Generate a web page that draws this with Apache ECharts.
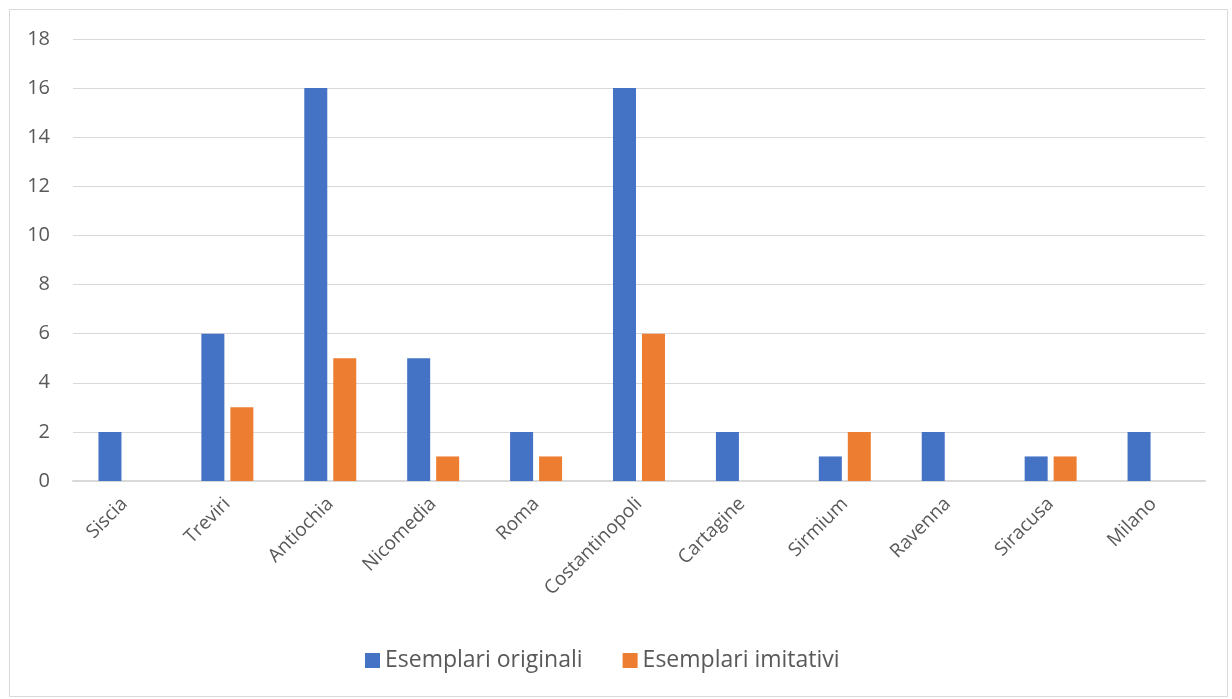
<!DOCTYPE html>
<html>
<head>
<meta charset="utf-8">
<script src="https://cdn.jsdelivr.net/npm/echarts@6/dist/echarts.min.js"></script>
<style>
  html, body { margin: 0; padding: 0; background: #fff; }
  #chart { width: 1232px; height: 699px; }
</style>
</head>
<body>
<div id="chart"></div>
<script>
// Zecche (categorie) e numero di esemplari
const mints = ['Siscia', 'Treviri', 'Antiochia', 'Nicomedia', 'Roma', 'Costantinopoli',
    'Cartagine', 'Sirmium', 'Ravenna', 'Siracusa', 'Milano'];
const originali = [2, 6, 16, 5, 2, 16, 2, 1, 2, 1, 2];
const imitativi = [0, 3, 5, 1, 1, 6, 0, 2, 0, 1, 0];
const yTicks = { min: 0, max: 18, interval: 2 };

const chart = echarts.init(document.getElementById('chart'));
const font = '"Open Sans", "Noto Sans", sans-serif';

chart.setOption({
    animation: false,
    textStyle: { fontFamily: font },
    graphic: [{
        type: 'rect',
        shape: { x: 9.5, y: 9.5, width: 1218, height: 687 },
        style: { fill: 'none', stroke: '#d9d9d9', lineWidth: 1 },
        silent: true
    }],
    grid: { left: 73, right: 27, top: 39, bottom: 218 },
    legend: {
        bottom: 22,
        left: 360,
        itemWidth: 15,
        itemHeight: 15,
        itemGap: 40,
        icon: 'rect',
        textStyle: { fontSize: 23, color: '#595959', fontFamily: font },
        data: ['Esemplari originali', 'Esemplari imitativi']
    },
    xAxis: {
        type: 'category',
        data: mints,
        axisLine: { lineStyle: { color: '#d9d9d9', width: 2 } },
        axisTick: { show: false },
        axisLabel: { rotate: 45, fontSize: 19, color: '#595959', margin: 20, interval: 0 }
    },
    yAxis: {
        type: 'value',
        min: yTicks.min,
        max: yTicks.max,
        interval: yTicks.interval,
        axisLine: { show: false },
        axisTick: { show: false },
        axisLabel: { fontSize: 20, color: '#595959', margin: 23 },
        splitLine: { lineStyle: { color: '#d9d9d9', width: 1 } }
    },
    series: [
        {
            name: 'Esemplari originali',
            type: 'bar',
            data: originali,
            barWidth: 23,
            barGap: '26%',
            itemStyle: { color: '#4472c4' }
        },
        {
            name: 'Esemplari imitativi',
            type: 'bar',
            data: imitativi,
            barWidth: 23,
            barGap: '26%',
            itemStyle: { color: '#ed7d31' }
        }
    ]
});

window.addEventListener('resize', () => chart.resize());
</script>
</body>
</html>
